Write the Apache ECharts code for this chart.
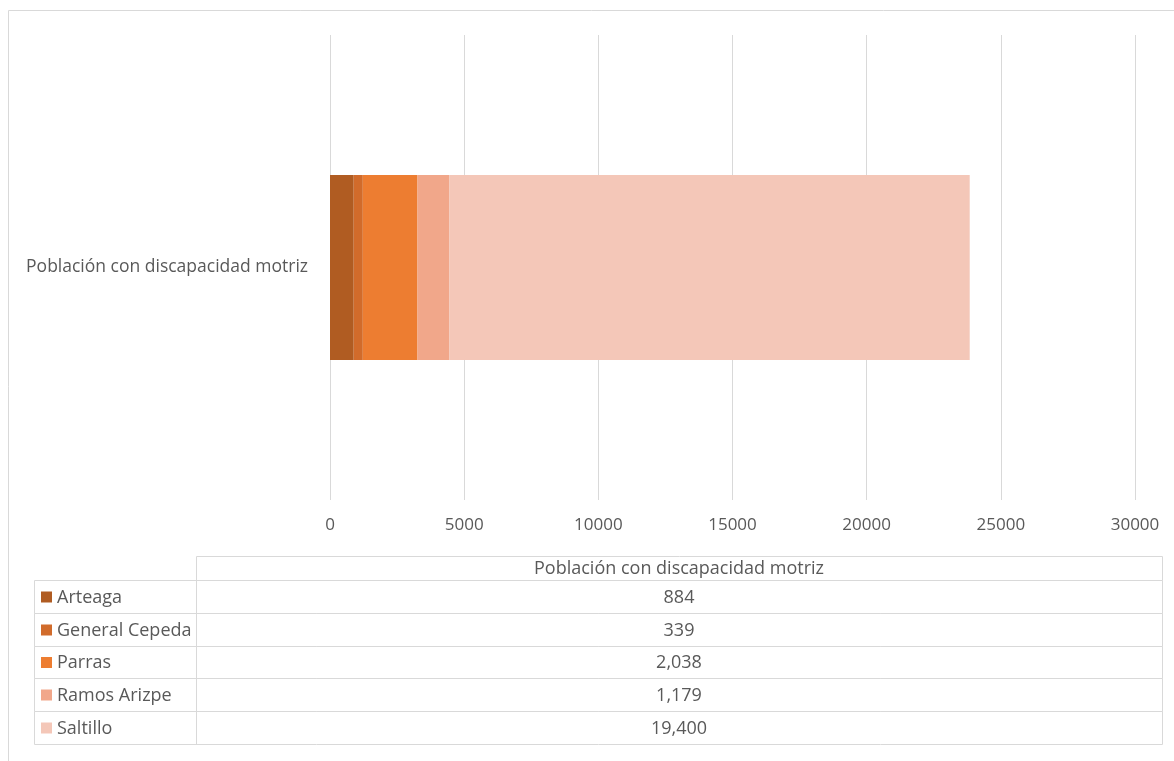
<!DOCTYPE html>
<html><head><meta charset="utf-8">
<script src="https://cdn.jsdelivr.net/npm/echarts@6/dist/echarts.min.js"></script>
<style>html,body{margin:0;padding:0;background:#fff}#c{width:1174px;height:761px}</style>
</head><body><div id="c"></div>
<script>
const categories = ['Población con discapacidad motriz'];
const seriesNames = ['Arteaga', 'General Cepeda', 'Parras', 'Ramos Arizpe', 'Saltillo'];
const seriesValues = [884, 339, 2038, 1179, 19400];
const colors = ['#B05C22', '#D16B2B', '#ED7D31', '#F1A78A', '#F4C7B8'];
const xTicks = [0, 5000, 10000, 15000, 20000, 25000, 30000];

const FONT = 'Open Sans';
const txt = '#595959';
const line = '#d9d9d9';

const chart = echarts.init(document.getElementById('c'));

// table geometry
const tL = 34, tC = 196, tR = 1162, hTop = 556, rTop = 580, rH = 32.8;
const TF = '18px "' + FONT + '"';
const g = [];
g.push({type:'rect', shape:{x:8.5,y:10.5,width:1170,height:770}, style:{fill:'none', stroke:line, lineWidth:1}, silent:true});
g.push({type:'rect', shape:{x:tC+0.5,y:hTop+0.5,width:tR-tC,height:rTop-hTop}, style:{fill:'none',stroke:line,lineWidth:1}});
g.push({type:'text', style:{x:(tC+tR)/2, y:(hTop+rTop)/2+1, text:categories[0], fill:txt, font:TF, align:'center', verticalAlign:'middle'}});
seriesNames.forEach((n,i)=>{
  const y0 = Math.round(rTop + i*rH);
  const y1 = Math.round(rTop + (i+1)*rH);
  g.push({type:'rect', shape:{x:tL+0.5,y:y0+0.5,width:tR-tL,height:y1-y0}, style:{fill:'none',stroke:line,lineWidth:1}});
  g.push({type:'line', shape:{x1:tC+0.5,y1:y0,x2:tC+0.5,y2:y1}, style:{stroke:line,lineWidth:1}});
  g.push({type:'rect', shape:{x:41,y:(y0+y1)/2-5,width:11,height:11}, style:{fill:colors[i]}});
  g.push({type:'text', style:{x:57, y:(y0+y1)/2+1, text:n, fill:txt, font:TF, align:'left', verticalAlign:'middle'}});
  g.push({type:'text', style:{x:(tC+tR)/2, y:(y0+y1)/2+1, text:seriesValues[i].toLocaleString('en-US'), fill:txt, font:TF, align:'center', verticalAlign:'middle'}});
});

chart.setOption({
  animation:false,
  grid:{left:330, right:39, top:35, bottom:261, containLabel:false},
  xAxis:{type:'value', min:xTicks[0], max:xTicks[xTicks.length-1], interval:xTicks[1]-xTicks[0],
    axisLine:{show:false}, axisTick:{show:false},
    splitLine:{lineStyle:{color:line, width:1}},
    axisLabel:{color:txt, fontFamily:FONT, fontSize:17, margin:17, formatter:v=>String(v)}},
  yAxis:{type:'category', data:categories,
    axisLine:{show:false}, axisTick:{show:false},
    axisLabel:{color:txt, fontFamily:FONT, fontSize:17.5, margin:22}},
  series: seriesNames.map((n,i)=>({
    name:n, type:'bar', stack:'total', data:[seriesValues[i]],
    barWidth:185, itemStyle:{color:colors[i]}
  })),
  graphic:g
});
</script></body></html>
